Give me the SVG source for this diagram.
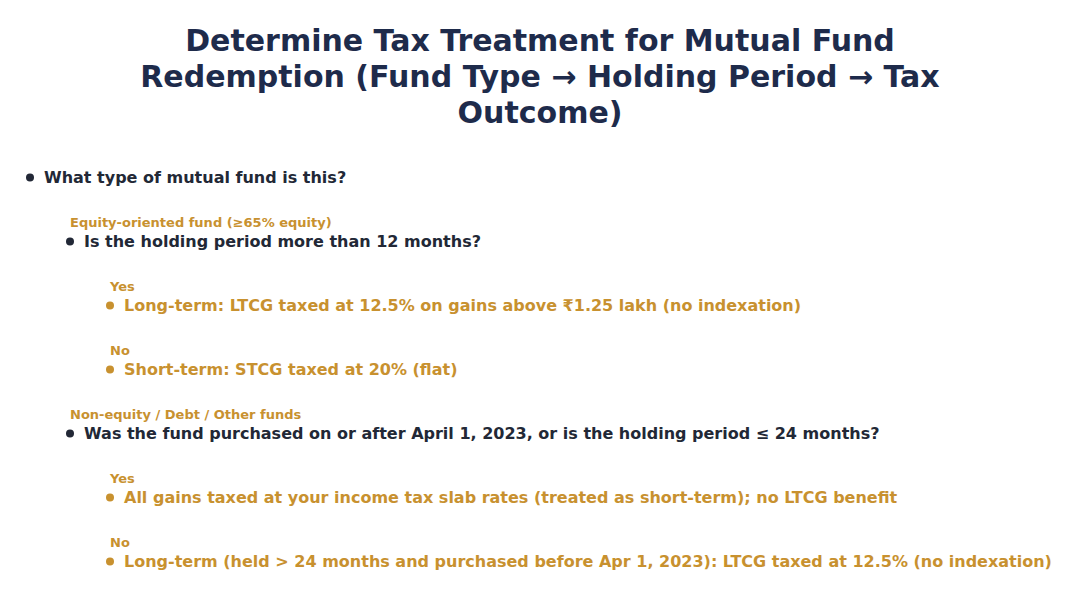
<svg xmlns="http://www.w3.org/2000/svg" width="1080" height="598" viewBox="0 0 1080 598">
<style>
text{font-family:"DejaVu Sans","Noto Sans",sans-serif;font-weight:bold}
.title{font-size:30px;fill:#1e2b4b;text-anchor:middle}
.q{font-size:16px;fill:#222836}
.o{font-size:16px;fill:#c8912f}
.lbl{font-size:13px;fill:#c8912f}
.dq{fill:#222836}
.do{fill:#c8912f}
</style>
<rect width="1080" height="598" fill="#ffffff"/>
<g id="title">
<text class="title" x="540" y="51">Determine Tax Treatment for Mutual Fund</text>
<text class="title" x="540" y="87">Redemption (Fund Type → Holding Period → Tax</text>
<text class="title" x="540" y="123">Outcome)</text>
</g>
<g id="connectors"></g>
<g id="q1">
<circle class="dq" cx="30" cy="177.5" r="4"/>
<text class="q" x="44" y="183">What type of mutual fund is this?</text>
</g>
<g id="q2">
<text class="lbl" x="70" y="226.5">Equity-oriented fund (≥65% equity)</text>
<circle class="dq" cx="70" cy="241.5" r="4"/>
<text class="q" x="84" y="247">Is the holding period more than 12 months?</text>
</g>
<g id="o1">
<text class="lbl" x="110" y="290.5">Yes</text>
<circle class="do" cx="110" cy="305.5" r="4"/>
<text class="o" x="124" y="311">Long-term: LTCG taxed at 12.5% on gains above ₹1.25 lakh (no indexation)</text>
</g>
<g id="o2">
<text class="lbl" x="110" y="354.5">No</text>
<circle class="do" cx="110" cy="369.5" r="4"/>
<text class="o" x="124" y="375">Short-term: STCG taxed at 20% (flat)</text>
</g>
<g id="q3">
<text class="lbl" x="70" y="418.5">Non-equity / Debt / Other funds</text>
<circle class="dq" cx="70" cy="433.5" r="4"/>
<text class="q" x="84" y="439">Was the fund purchased on or after April 1, 2023, or is the holding period ≤ 24 months?</text>
</g>
<g id="o3">
<text class="lbl" x="110" y="482.5">Yes</text>
<circle class="do" cx="110" cy="497.5" r="4"/>
<text class="o" x="124" y="503">All gains taxed at your income tax slab rates (treated as short-term); no LTCG benefit</text>
</g>
<g id="o4">
<text class="lbl" x="110" y="546.5">No</text>
<circle class="do" cx="110" cy="561.5" r="4"/>
<text class="o" x="124" y="567">Long-term (held &gt; 24 months and purchased before Apr 1, 2023): LTCG taxed at 12.5% (no indexation)</text>
</g>
</svg>
